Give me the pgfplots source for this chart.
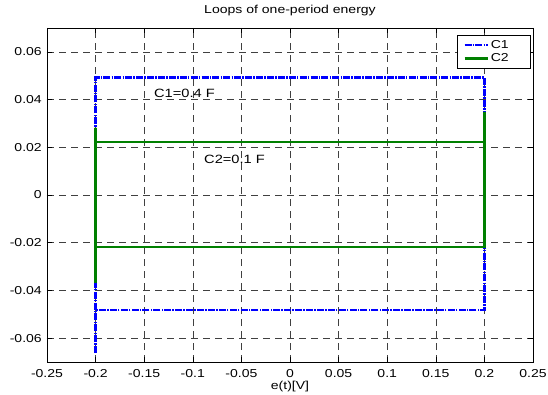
\documentclass[border=0pt]{standalone}
\usepackage{fontspec}
\setmainfont{Liberation Sans}[FakeStretch=1.22]
\usepackage{pgfplots}
\pgfplotsset{compat=1.18}
\definecolor{mblue}{RGB}{0,0,255}
\definecolor{mgreen}{RGB}{0,128,0}
\begin{document}
\begin{tikzpicture}
\begin{axis}[
  at={(0pt,0pt)}, anchor=south west,
  scale only axis, width=486pt, height=334pt,
  xmin=-0.25, xmax=0.25, ymin=-0.07, ymax=0.07,
  scaled x ticks=false, scaled y ticks=false,
  xtick={-0.25,-0.2,-0.15,-0.1,-0.05,0,0.05,0.1,0.15,0.2,0.25},
  xticklabels={-0.25,-0.2,-0.15,-0.1,-0.05,0,0.05,0.1,0.15,0.2,0.25},
  ytick={-0.06,-0.04,-0.02,0,0.02,0.04,0.06},
  yticklabels={-0.06,-0.04,-0.02,0,0.02,0.04,0.06},
  tick align=inside, major tick length=5pt,
  tick style={black, line width=0.5pt},
  axis line style={black, line width=0.8pt},
  grid=major,
  major grid style={black!75, line width=0.5pt, dash pattern=on 7pt off 5pt},
  xticklabel style={font=\fontsize{11.5}{12}\selectfont, anchor=base, inner sep=0pt, yshift=-15pt},
  yticklabel style={font=\fontsize{11.5}{12}\selectfont, anchor=east, inner sep=0pt, xshift=-5pt},
  title={Loops of one-period energy},
  title style={font=\fontsize{11.5}{12}\selectfont, at={(0.5,1)}, anchor=base, yshift=8.7pt, inner sep=0pt},
  xlabel={e(t)[V]},
  xlabel style={font=\fontsize{11.5}{12}\selectfont, at={(0.5,0)}, anchor=base, yshift=-27pt, inner sep=0pt},
  legend cell align=left,
  legend image code/.code={\draw[#1] (0pt,0pt) -- (23pt,0pt);},
  legend style={at={(1,1)}, anchor=north east, xshift=-2pt, yshift=-7pt,
    font=\fontsize{11.5}{12}\selectfont, draw=black, line width=0.6pt,
    inner xsep=6pt, inner ysep=3pt, row sep=0pt},
]
\addplot[mblue, line width=2.5pt, dash pattern=on 7pt off 1.2pt on 1.5pt off 1.2pt] coordinates {
  (-0.2,-0.0663) (-0.2,0.0492) (0.2,0.0492) (0.2,-0.0482) (-0.2,-0.0482)
};
\addlegendentry{C1\hspace*{14pt}}
\addplot[mgreen, line width=2.4pt] coordinates {
  (-0.2,-0.0369) (-0.2,0.0281) (-0.2,0.0222) (0.2,0.0222) (0.2,0.0348) (0.2,-0.0218) (-0.2,-0.0218)
};
\addlegendentry{C2\hspace*{14pt}}
\node[anchor=west, inner sep=0pt, font=\fontsize{12}{13}\selectfont] at (axis cs:-0.140,0.0426) {C1=0.4 F};
\node[anchor=west, inner sep=0pt, font=\fontsize{12}{13}\selectfont] at (axis cs:-0.0885,0.0151) {C2=0.1 F};
\end{axis}
\pgfresetboundingbox
\path[use as bounding box] (-47pt,-32pt) rectangle (501pt,362pt);
\end{tikzpicture}
\end{document}
